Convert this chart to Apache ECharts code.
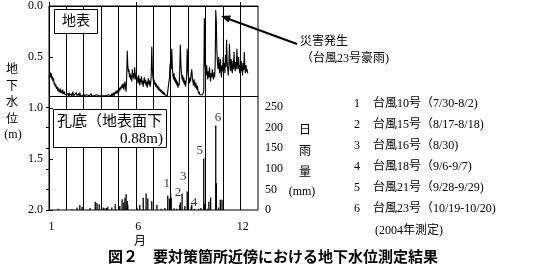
<!DOCTYPE html>
<html><head><meta charset="utf-8">
<script src="https://cdn.jsdelivr.net/npm/echarts@6/dist/echarts.min.js"></script>
<style>html,body{margin:0;padding:0;background:#fff}#c{width:544px;height:265px}</style>
</head><body><div id="c"></div>
<script>
// ---- data ----
const monthStarts = [0,31,60,91,121,152,182,213,244,274,305,335,366];
const xTickDays = [0,152,335];
const xTickLabels = ['1','6','12'];
const holeBottom = 0.88;
// daily ground-water level (m below surface), one array per month (2004)
const wlJan = [0.70,0.68,0.65,0.70,0.66,0.72,0.69,0.74,0.71,0.77,0.75,0.79,0.77,0.81,0.79,0.83,0.80,0.84,0.82,0.85,0.81,0.85,0.83,0.86,0.82,0.86,0.87,0.84,0.87,0.88,0.88];
const wlFeb = [0.88,0.88,0.86,0.88,0.85,0.88,0.88,0.88,0.86,0.88,0.88,0.84,0.88,0.88,0.87,0.88,0.88,0.85,0.88,0.88,0.88,0.86,0.88,0.85,0.88,0.88,0.88,0.87,0.88];
const wlMar = [0.88,0.86,0.88,0.88,0.88,0.88,0.87,0.88,0.88,0.88,0.88,0.88,0.88,0.88,0.86,0.88,0.88,0.88,0.88,0.88,0.88,0.88,0.88,0.87,0.88,0.88,0.88,0.88,0.88,0.88,0.88];
const wlApr = [0.88,0.88,0.88,0.88,0.88,0.88,0.88,0.88,0.88,0.88,0.88,0.88,0.88,0.87,0.88,0.88,0.88,0.88,0.88,0.86,0.88,0.88,0.85,0.88,0.87,0.84,0.86,0.83,0.86,0.84];
const wlMay = [0.82,0.85,0.80,0.83,0.84,0.79,0.81,0.77,0.80,0.76,0.82,0.78,0.74,0.80,0.84,0.70,0.44,0.58,0.65,0.62,0.70,0.66,0.72,0.68,0.74,0.62,0.70,0.66,0.72,0.60,0.68];
const wlJun = [0.72,0.66,0.74,0.70,0.76,0.68,0.73,0.78,0.71,0.75,0.69,0.77,0.73,0.79,0.74,0.70,0.76,0.72,0.78,0.74,0.80,0.75,0.71,0.77,0.73,0.79,0.76,0.68,0.40,0.62];
const wlJul = [0.70,0.74,0.72,0.77,0.75,0.79,0.76,0.80,0.78,0.82,0.79,0.83,0.81,0.84,0.82,0.85,0.83,0.86,0.84,0.87,0.85,0.87,0.86,0.88,0.87,0.88,0.88,0.88,0.88,0.70,0.58];
const wlAug = [0.55,0.62,0.42,0.60,0.68,0.72,0.66,0.74,0.70,0.76,0.72,0.78,0.74,0.80,0.76,0.78,0.62,0.38,0.58,0.66,0.72,0.68,0.75,0.70,0.77,0.73,0.79,0.75,0.70,0.42,0.62];
const wlSep = [0.68,0.72,0.76,0.70,0.74,0.66,0.62,0.70,0.74,0.78,0.72,0.76,0.80,0.75,0.79,0.82,0.78,0.83,0.86,0.84,0.87,0.88,0.86,0.88,0.88,0.87,0.88,0.84,0.12,0.55];
const wlOct = [0.62,0.68,0.58,0.66,0.72,0.64,0.70,0.60,0.68,0.74,0.66,0.70,0.62,0.68,0.72,0.65,0.70,0.58,0.04,0.15,0.45,0.55,0.62,0.50,0.60,0.66,0.52,0.62,0.70,0.58,0.64];
const wlNov = [0.50,0.62,0.56,0.66,0.48,0.60,0.33,0.55,0.62,0.68,0.58,0.37,0.55,0.64,0.52,0.60,0.66,0.54,0.62,0.45,0.58,0.64,0.55,0.62,0.42,0.56,0.62,0.50,0.60,0.66];
const wlDec = [0.58,0.64,0.54,0.62,0.68,0.56,0.63,0.45,0.60,0.66,0.58,0.64,0.62,0.66];
// daily rainfall (day of year from Jan 1 = 0, mm)
const rainDays = [16,40,49,54,58,60,72,81,84,88,95,98,101,103,110,116,124,128,131,133,135,137,138,154,159,165,170,173,180,189,196,203,208,211,213,214,219,224,229,230,233,238,242,243,249,250,255,262,266,271,272,278,280,283,292,293,297,300,303];
const rainMm   = [3,2,6,12,8,4,5,20,17,14,6,4,5,8,6,14,10,26,18,30,38,22,12,6,12,30,40,28,22,12,3,5,35,28,40,30,4,3,12,18,40,10,45,25,8,12,3,3,5,125,15,3,20,30,205,65,6,25,25];
// typhoon markers
const typhoonNo = ['1','2','3','4','5','6'];
const typhoonLabelDay = [206,226,235,254,264,296];
const typhoonLabelMm = [63,43,80,19,145,225];
const legendNo = ['1','2','3','4','5','6'];
const legendText = ['台風10号（7/30-8/2)','台風15号（8/17-8/18)','台風16号（8/30)','台風18号（9/6-9/7)','台風21号（9/28-9/29)','台風23号（10/19-10/20)'];
const legendNote = '(2004年測定)';

// ---- build ----
const FONT = '"Liberation Serif","Noto Sans CJK JP",serif';
const wlMonths = [wlJan,wlFeb,wlMar,wlApr,wlMay,wlJun,wlJul,wlAug,wlSep,wlOct,wlNov,wlDec];
const wlData = [];
wlMonths.forEach((arr,m)=>arr.forEach((v,i)=>wlData.push([monthStarts[m]+i, v])));
const rainData = rainDays.map((d,i)=>[d, rainMm[i]]);
const typhoonData = typhoonNo.map((n,i)=>[typhoonLabelDay[i], typhoonLabelMm[i], n]);

const chart = echarts.init(document.getElementById('c'), null, {renderer:'canvas'});
const txt = (x,y,text,extra)=>({type:'text', x, y, z:20, style:Object.assign({text, fill:'#000', font:'12px '+FONT, textVerticalAlign:'middle'}, extra||{})});
const graphics = [
  // box 地表
  {type:'rect', z:10, shape:{x:54.5,y:9.5,width:43,height:24}, style:{fill:'#fff',stroke:'#000',lineWidth:1}},
  txt(76,21.5,'地表',{textAlign:'center', font:'14px '+FONT}),
  // box 孔底
  {type:'rect', z:10, shape:{x:53.5,y:109.5,width:113,height:38}, style:{fill:'#fff',stroke:'#000',lineWidth:1}},
  txt(57,122,'孔底（地表面下',{font:'15px '+FONT}),
  txt(163,139,'0.88m)',{textAlign:'right', font:'15px '+FONT}),
  // arrow
  {type:'line', z:10, shape:{x1:297,y1:44,x2:226,y2:18}, style:{stroke:'#000',lineWidth:2}},
  {type:'polygon', z:10, shape:{points:[[221,16],[231,15.6],[228.4,22.6]]}, style:{fill:'#000'}},
  txt(300,42,'災害発生'),
  txt(301,59,'（台風23号豪雨)'),
  // axis names
  txt(12,62,'地\n下\n水\n位',{textAlign:'center', lineHeight:16.5, textVerticalAlign:'top'}),
  txt(13,135,'(m)',{textAlign:'center'}),
  txt(305,120,'日\n雨\n量',{textAlign:'center', lineHeight:21, textVerticalAlign:'top'}),
  txt(302,192,'(mm)',{textAlign:'center'}),
  txt(140,242,'月',{textAlign:'center'}),
  // title
  txt(273,256,'図２　要対策箇所近傍における地下水位測定結果',{textAlign:'center', font:'bold 15px "Noto Sans CJK JP",sans-serif'}),
  txt(375,231,legendNote)
];
legendNo.forEach((n,i)=>{
  graphics.push(txt(357,104+i*21,n,{textAlign:'center'}));
  graphics.push(txt(373,104+i*21,legendText[i]));
});

const axisFont = {color:'#000', fontSize:12, fontFamily:FONT};
chart.setOption({
  animation:false,
  backgroundColor:'#fff',
  grid:[
    {left:49, top:4, width:209, height:206, show:true, borderColor:'#000', borderWidth:1, backgroundColor:'transparent'},
    {left:49, top:107, width:209, height:103}
  ],
  xAxis:[
    {gridIndex:0, type:'value', min:0, max:366,
     axisLine:{show:true, lineStyle:{color:'#000'}},
     axisTick:{show:true, inside:true, length:4, customValues:xTickDays, lineStyle:{color:'#000'}},
     axisLabel:Object.assign({show:true, margin:11, padding:[0,0,0,5], customValues:xTickDays, formatter:v=>xTickLabels[xTickDays.indexOf(v)]}, axisFont),
     splitLine:{show:false}},
    {gridIndex:1, type:'value', min:0, max:366, show:false, splitLine:{show:false}}
  ],
  yAxis:[
    {gridIndex:0, type:'value', inverse:true, min:0, max:2, interval:0.5, position:'left',
     axisLine:{show:true, lineStyle:{color:'#000'}},
     axisTick:{show:true, inside:true, length:4, lineStyle:{color:'#000'}},
     axisLabel:Object.assign({margin:6, formatter:v=>v.toFixed(1)}, axisFont),
     splitLine:{show:false}},
    {gridIndex:1, type:'value', min:0, max:250, interval:50, position:'right',
     axisLine:{show:true, lineStyle:{color:'#000'}},
     axisTick:{show:true, inside:true, length:3, lineStyle:{color:'#000'}},
     axisLabel:Object.assign({margin:7}, axisFont),
     splitLine:{show:false}}
  ],
  series:[
    {type:'line', xAxisIndex:0, yAxisIndex:0, data:wlData, symbol:'none', silent:true,
     lineStyle:{color:'#000', width:1.1},
     markLine:{silent:true, symbol:'none', label:{show:false}, animation:false,
       lineStyle:{color:'#000', width:1, type:'solid'},
       data:monthStarts.slice(1,-1).map(d=>({xAxis:d})).concat([{yAxis:holeBottom}])}},
    {type:'bar', xAxisIndex:1, yAxisIndex:1, data:rainData, barWidth:1.3, silent:true,
     itemStyle:{color:'#000'}},
    {type:'scatter', xAxisIndex:1, yAxisIndex:1, data:typhoonData, symbolSize:0, silent:true,
     label:{show:true, position:'inside', formatter:p=>p.data[2], color:'#000', fontSize:13, fontFamily:FONT}}
  ],
  graphic:graphics
});
</script></body></html>
